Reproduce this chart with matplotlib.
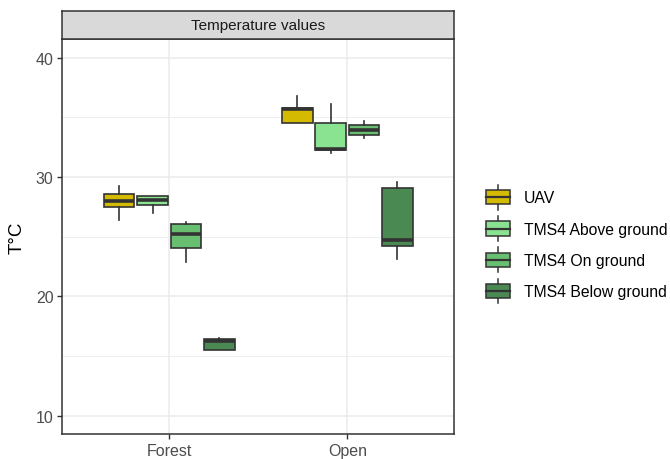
import matplotlib
matplotlib.use("Agg")
import matplotlib.pyplot as plt
from matplotlib.legend_handler import HandlerBase
from matplotlib.patches import Patch, Rectangle
from matplotlib.lines import Line2D

plt.rcParams["font.family"] = ["Liberation Sans", "DejaVu Sans"]

sites = ["Forest", "Open"]
sensors = ["UAV", "TMS4 Above ground", "TMS4 On ground", "TMS4 Below ground"]
colors = ["#D4BA00", "#8AE390", "#69BF71", "#4A8A52"]

# five-number summaries per sensor, one value per site (Forest, Open)
whislo = {
    "UAV": [26.4, 34.5],
    "TMS4 Above ground": [27.0, 32.0],
    "TMS4 On ground": [22.9, 33.3],
    "TMS4 Below ground": [15.55, 23.1],
}
q1 = {
    "UAV": [27.45, 34.5],
    "TMS4 Above ground": [27.65, 32.25],
    "TMS4 On ground": [24.05, 33.55],
    "TMS4 Below ground": [15.55, 24.25],
}
med = {
    "UAV": [28.0, 35.65],
    "TMS4 Above ground": [28.1, 32.35],
    "TMS4 On ground": [25.2, 33.9],
    "TMS4 Below ground": [16.3, 24.7],
}
q3 = {
    "UAV": [28.6, 35.75],
    "TMS4 Above ground": [28.4, 34.5],
    "TMS4 On ground": [26.05, 34.35],
    "TMS4 Below ground": [16.4, 29.1],
}
whishi = {
    "UAV": [29.25, 36.8],
    "TMS4 Above ground": [28.4, 36.1],
    "TMS4 On ground": [26.25, 34.7],
    "TMS4 Below ground": [16.55, 29.6],
}

edge = "#333333"
fig = plt.figure(figsize=(6.7, 4.6), dpi=100)
ax = fig.add_axes([0.093, 0.055, 0.585, 0.858])

dodge = 0.75 / len(sensors)
for i, s in enumerate(sensors):
    offset = (i - (len(sensors) - 1) / 2) * dodge
    stats = []
    for j in range(len(sites)):
        stats.append(dict(whislo=whislo[s][j], q1=q1[s][j], med=med[s][j],
                          q3=q3[s][j], whishi=whishi[s][j], fliers=[]))
    pos = [j + 1 + offset for j in range(len(sites))]
    ax.bxp(stats, positions=pos, widths=0.172, patch_artist=True, showcaps=False,
           manage_ticks=False,
           boxprops=dict(facecolor=colors[i], edgecolor=edge, linewidth=1.2),
           whiskerprops=dict(color=edge, linewidth=1.2),
           medianprops=dict(color=edge, linewidth=2.6, solid_capstyle="butt"),
           zorder=3)

ax.set_xlim(0.4, 2.6)
ax.set_ylim(8.5, 41.55)
ax.set_xticks([1, 2])
ax.set_xticklabels(sites)
ax.set_yticks([10, 20, 30, 40])
ax.set_yticks([15, 25, 35], minor=True)
ax.tick_params(axis="both", which="major", labelsize=11.5, labelcolor="#4D4D4D",
               color="#333333", length=3.6, width=1, pad=2.8)
ax.tick_params(axis="both", which="minor", length=0)
ax.grid(True, which="major", color="#EBEBEB", linewidth=1.1, zorder=0)
ax.grid(True, which="minor", axis="y", color="#EBEBEB", linewidth=0.6, zorder=0)
ax.set_axisbelow(True)
for sp in ax.spines.values():
    sp.set_color(edge)
    sp.set_linewidth(1.1)
ax.set_ylabel("T°C", fontsize=13.5, color="black", labelpad=7)

# facet strip
strip = fig.add_axes([0.093, 0.913, 0.585, 0.06])
strip.set_facecolor("#D9D9D9")
strip.set_xticks([])
strip.set_yticks([])
for sp in strip.spines.values():
    sp.set_color(edge)
    sp.set_linewidth(1.1)
strip.text(0.5, 0.5, "Temperature values", ha="center", va="center",
           fontsize=11, color="#1A1A1A", transform=strip.transAxes)


class BoxKey(HandlerBase):
    def create_artists(self, legend, orig_handle, xdescent, ydescent,
                       width, height, fontsize, trans):
        x0, y0 = -xdescent, -ydescent
        cx = x0 + width / 2
        wl = Line2D([cx, cx], [y0, y0 + height], color=edge, linewidth=1.1,
                    transform=trans)
        box = Rectangle((x0, y0 + height * 0.21), width, height * 0.58,
                        facecolor=orig_handle.get_facecolor(), edgecolor=edge,
                        linewidth=1.1, transform=trans)
        md = Line2D([x0, x0 + width], [y0 + height / 2] * 2, color=edge,
                    linewidth=1.6, transform=trans)
        return [wl, box, md]


handles = [Patch(facecolor=c, edgecolor=edge) for c in colors]
fig.legend(handles, sensors, handler_map={Patch: BoxKey()},
           loc="center left", bbox_to_anchor=(0.726, 0.467), frameon=False,
           fontsize=11.3, handlelength=1.53, handleheight=2.04,
           handletextpad=0.85, labelspacing=0.42, borderpad=0, borderaxespad=0,
           labelcolor="black")

fig.savefig("out.png", dpi=100)
